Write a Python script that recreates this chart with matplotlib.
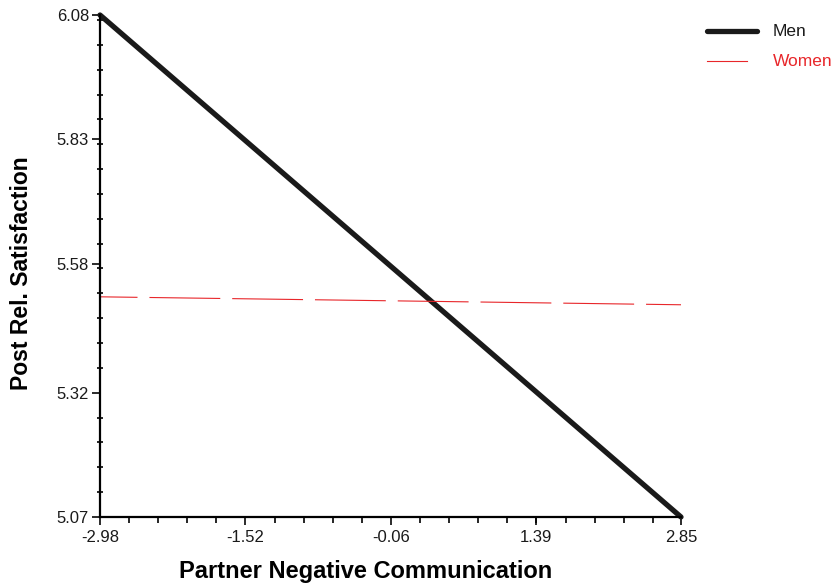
"""Simple slopes of post relationship satisfaction on partner negative communication."""

import matplotlib
matplotlib.use("Agg")
import matplotlib.pyplot as plt
from matplotlib.lines import Line2D
from matplotlib.ticker import AutoMinorLocator, FixedLocator

plt.rcParams["font.family"] = ["Liberation Sans", "DejaVu Sans"]
plt.rcParams["lines.scale_dashes"] = False

x_ticks = [-2.98, -1.52, -0.06, 1.39, 2.85]
y_ticks = [5.07, 5.32, 5.58, 5.83, 6.08]

x_ends = [-2.98, 2.85]
men = [6.08, 5.07]
women = [5.513, 5.497]

series_names = ["Men", "Women"]
series_colors = ["#1a1a1a", "#e8262a"]

fig = plt.figure(figsize=(8.32, 5.86), dpi=100)
ax = fig.add_axes([100 / 832, 1 - 517 / 586, 581 / 832, 502 / 586])

ax.plot(x_ends, men, color=series_colors[0], lw=3.8, solid_capstyle="round", clip_on=False)
ax.plot(x_ends, women, color=series_colors[1], lw=0.8, linestyle=(24, (51, 8.6)), clip_on=False)

ax.set_xlim(x_ends[0], x_ends[1])
ax.set_ylim(y_ticks[0], y_ticks[-1])

ax.xaxis.set_major_locator(FixedLocator(x_ticks))
ax.yaxis.set_major_locator(FixedLocator(y_ticks))
ax.xaxis.set_minor_locator(AutoMinorLocator(5))
ax.yaxis.set_minor_locator(AutoMinorLocator(5))
ax.set_xticklabels([f"{v:.2f}" for v in x_ticks])
ax.set_yticklabels([f"{v:.2f}" for v in y_ticks])

for side in ("top", "right"):
    ax.spines[side].set_visible(False)
for side in ("left", "bottom"):
    ax.spines[side].set_linewidth(1.6)

ax.tick_params(axis="both", which="major", direction="out", length=6, width=1.3,
               labelsize=12, pad=2, colors="#1a1a1a")
ax.tick_params(axis="x", which="major", pad=3)
ax.tick_params(axis="y", which="minor", direction="inout", length=5, width=1.2)
ax.tick_params(axis="x", which="minor", direction="out", length=4.5, width=1.2)

ax.set_xlabel("Partner Negative Communication", fontsize=17, fontweight="bold", labelpad=12)
ax.set_ylabel("Post Rel. Satisfaction", fontsize=16.5, fontweight="bold", labelpad=17)
ax.xaxis.set_label_coords(0.458, -0.085)
ax.yaxis.label.set_y(0.485)

# legend drawn by hand to match the original layout
fig.add_artist(Line2D([707 / 832, 757 / 832], [1 - 31 / 586, 1 - 31 / 586],
                      color=series_colors[0], lw=3.8, solid_capstyle="round"))
fig.add_artist(Line2D([707 / 832, 747 / 832], [1 - 61 / 586, 1 - 61 / 586],
                      color=series_colors[1], lw=0.8))
fig.text(773 / 832, 1 - 31 / 586, series_names[0], fontsize=12.5, va="center", color="#1a1a1a")
fig.text(773 / 832, 1 - 62 / 586, series_names[1], fontsize=12.5, va="center", color=series_colors[1])

fig.savefig("out.png", dpi=100)
